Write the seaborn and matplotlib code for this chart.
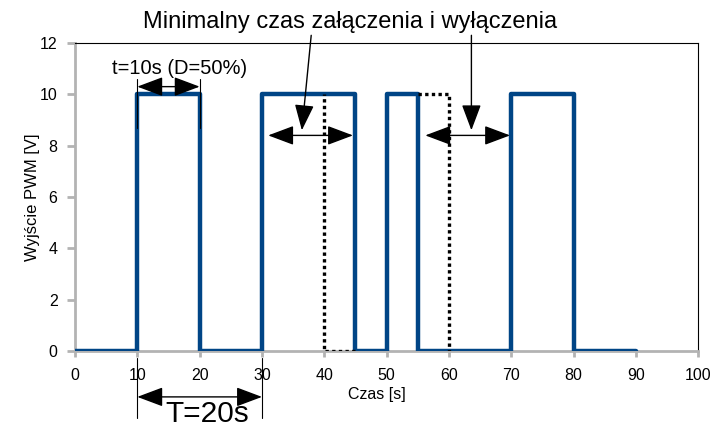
import matplotlib
matplotlib.use("Agg")
import matplotlib.pyplot as plt
import seaborn as sns
import pandas as pd

# PWM signal: switching instants and output level after each instant
czas = [0, 10, 20, 30, 45, 50, 55, 70, 80, 90]
wyjscie = [0, 10, 0, 10, 0, 10, 0, 10, 0, 0]

# dotted "would-be" edges
kropki1_x = [45, 40, 40]
kropki1_y = [0, 0, 10]
kropki2_x = [55, 60, 60]
kropki2_y = [10, 10, 0]

x_ticks = [0, 10, 20, 30, 40, 50, 60, 70, 80, 90, 100]
y_ticks = [0, 2, 4, 6, 8, 10, 12]

sns.set_style("white")
plt.rcParams["font.family"] = ["Liberation Sans", "DejaVu Sans"]
plt.rcParams["text.color"] = "black"
plt.rcParams["axes.labelcolor"] = "black"

fig = plt.figure(figsize=(7.14, 4.28), dpi=100)
ax = fig.add_axes([0.105, 0.180, 0.873, 0.7195])

df = pd.DataFrame({"t": czas, "v": wyjscie})
sns.lineplot(data=df, x="t", y="v", ax=ax, color="#004586", linewidth=3.2,
             drawstyle="steps-post", estimator=None, zorder=3)

for kx, ky in [(kropki1_x, kropki1_y), (kropki2_x, kropki2_y)]:
    sns.lineplot(x=kx, y=ky, ax=ax, color="black", linewidth=2.4, sort=False,
                 estimator=None, linestyle=(0, (1, 1)), zorder=4)

ax.set_xlim(0, 100)
ax.set_ylim(0, 12)
ax.set_xticks(x_ticks)
ax.set_yticks(y_ticks)
ax.tick_params(axis="both", labelsize=11.5, colors="#b3b3b3", labelcolor="black",
               direction="out", width=2, left=True, bottom=True)
ax.tick_params(axis="x", length=4, pad=8)
ax.tick_params(axis="y", length=5.5, pad=7)
for s in ["left", "bottom"]:
    ax.spines[s].set_color("#b3b3b3")
    ax.spines[s].set_linewidth(2)
for s in ["top", "right"]:
    ax.spines[s].set_color("black")
    ax.spines[s].set_linewidth(0.8)

ax.set_xlabel("Czas [s]", fontsize=11.5, labelpad=3)
ax.xaxis.label.set_x(0.485)
ax.set_ylabel("Wyjście PWM [V]", fontsize=12, labelpad=0)

styl = "<|-|>,head_length=16,head_width=6"
strz = dict(arrowstyle=styl, color="black", lw=1, shrinkA=0, shrinkB=0,
            mutation_scale=1)

# t = 10s
ax.annotate("", xy=(10, 10.3), xytext=(20, 10.3), arrowprops=strz,
            annotation_clip=False)
ax.plot([10, 10], [8.7, 10.6], color="black", lw=0.8, zorder=5)
ax.plot([20, 20], [8.7, 10.6], color="black", lw=0.8, zorder=5)
ax.text(16.8, 10.8, "t=10s (D=50%)", fontsize=14.5, ha="center", va="baseline")

# T = 20s
ax.annotate("", xy=(10, -1.79), xytext=(30, -1.79), arrowprops=strz,
            annotation_clip=False)
ax.plot([10, 10], [-0.27, -2.6], color="black", lw=0.8, clip_on=False)
ax.plot([30, 30], [-0.27, -2.6], color="black", lw=0.8, clip_on=False)
fig.text(0.29, 0.001, "T=20s", fontsize=21.5, ha="center", va="bottom")

# minimum on/off time
ax.annotate("", xy=(31.0, 8.4), xytext=(44.6, 8.4), arrowprops=strz,
            annotation_clip=False)
ax.annotate("", xy=(56.2, 8.4), xytext=(69.8, 8.4), arrowprops=strz,
            annotation_clip=False)
jedna = dict(arrowstyle="-|>,head_length=16,head_width=6", color="black",
             lw=1, shrinkA=0, shrinkB=0, mutation_scale=1)
ax.annotate("", xy=(36.4, 8.6), xytext=(37.9, 12.3), arrowprops=jedna,
            annotation_clip=False)
ax.annotate("", xy=(63.6, 8.6), xytext=(63.6, 12.3), arrowprops=jedna,
            annotation_clip=False)
ax.text(44.1, 12.57, "Minimalny czas załączenia i wyłączenia", fontsize=17,
        ha="center", va="baseline")

fig.savefig("out.png", dpi=100)
